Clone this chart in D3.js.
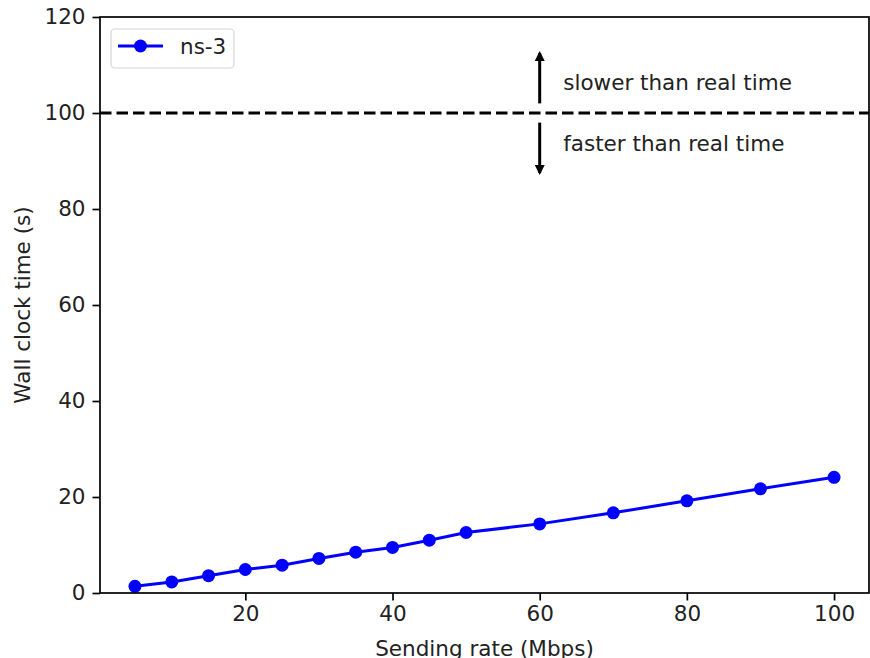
<!DOCTYPE html>
<html>
<head>
<meta charset="utf-8">
<script src="https://cdn.jsdelivr.net/npm/d3@7"></script>
<style>
  body { margin: 0; background: #fff; }
  text { font-family: "DejaVu Sans", sans-serif; fill: #222; }
</style>
</head>
<body>
<div id="chart"></div>
<script>
// Data
const sendingRates = [5, 10, 15, 20, 25, 30, 35, 40, 45, 50, 60, 70, 80, 90, 100];
const wallClock = [1.4, 2.3, 3.6, 4.9, 5.8, 7.2, 8.5, 9.5, 11.0, 12.6, 14.4, 16.7, 19.2, 21.7, 24.1];
const xTicks = [20, 40, 60, 80, 100];
const yTicks = [0, 20, 40, 60, 80, 100, 120];
const realTime = 100;
const seriesName = "ns-3";

const W = 870, H = 658;
const margin = { top: 17, right: 1, bottom: 65, left: 100 };
const fs = 21.5;

const svg = d3.select("#chart").append("svg")
  .attr("width", W).attr("height", H);

const x = d3.scaleLinear().domain([0.25, 104.75]).range([margin.left, W - margin.right]);
const y = d3.scaleLinear().domain([0, 120]).range([H - margin.bottom, margin.top]);

// dashed real-time line
svg.append("line")
  .attr("x1", x.range()[0]).attr("x2", x.range()[1])
  .attr("y1", y(realTime)).attr("y2", y(realTime))
  .attr("stroke", "#000").attr("stroke-width", 3)
  .attr("stroke-dasharray", "11.5,5");

// arrows
const defs = svg.append("defs");
defs.append("marker")
  .attr("id", "head")
  .attr("viewBox", "0 0 10 10")
  .attr("refX", 8).attr("refY", 5)
  .attr("markerWidth", 10).attr("markerHeight", 10)
  .attr("markerUnits", "userSpaceOnUse")
  .attr("orient", "auto")
  .append("path").attr("d", "M0,0 L10,5 L0,10 z").attr("fill", "#000");

const arrows = [[102, 112.5], [98, 87.5]];
arrows.forEach(a => {
  svg.append("line")
    .attr("x1", x(60)).attr("x2", x(60))
    .attr("y1", y(a[0])).attr("y2", y(a[1]))
    .attr("stroke", "#000").attr("stroke-width", 3)
    .attr("marker-end", "url(#head)");
});

svg.append("text")
  .attr("x", x(63.2)).attr("y", y(106.5))
  .attr("dy", "0.36em")
  .style("font-size", fs + "px")
  .text("slower than real time");
svg.append("text")
  .attr("x", x(63.2)).attr("y", y(93.75))
  .attr("dy", "0.36em")
  .style("font-size", fs + "px")
  .text("faster than real time");

// series
const line = d3.line().x((d, i) => x(sendingRates[i])).y(d => y(d));
svg.append("path")
  .datum(wallClock)
  .attr("d", line)
  .attr("fill", "none")
  .attr("stroke", "#0000ff")
  .attr("stroke-width", 3);

svg.selectAll(".dot")
  .data(wallClock)
  .enter()
  .append("circle")
  .attr("class", "dot")
  .attr("cx", (d, i) => x(sendingRates[i]))
  .attr("cy", d => y(d))
  .attr("r", 6.5)
  .attr("fill", "#0000ff");

// spines
const [x0, x1] = x.range();
const [y0, y1] = y.range();
svg.append("rect")
  .attr("x", x0).attr("y", y1)
  .attr("width", x1 - x0).attr("height", y0 - y1)
  .attr("fill", "none").attr("stroke", "#000").attr("stroke-width", 1.7);

// axes
const xAxis = svg.append("g")
  .attr("transform", `translate(0,${y0})`)
  .call(d3.axisBottom(x).tickValues(xTicks).tickSize(7.5).tickPadding(5));
const yAxis = svg.append("g")
  .attr("transform", `translate(${x0},0)`)
  .call(d3.axisLeft(y).tickValues(yTicks).tickSize(7.5).tickPadding(7));

[xAxis, yAxis].forEach(g => {
  g.select(".domain").remove();
  g.selectAll(".tick line").attr("stroke", "#000").attr("stroke-width", 1.7);
  g.selectAll(".tick text")
    .style("font-size", fs + "px")
    .style("font-family", "DejaVu Sans, sans-serif")
    .attr("fill", "#222");
});

// axis labels
svg.append("text")
  .attr("x", (x0 + x1) / 2).attr("y", 656)
  .attr("text-anchor", "middle")
  .style("font-size", fs + "px")
  .text("Sending rate (Mbps)");

svg.append("text")
  .attr("transform", `translate(30,${(y0 + y1) / 2}) rotate(-90)`)
  .attr("text-anchor", "middle")
  .style("font-size", fs + "px")
  .text("Wall clock time (s)");

// legend
const lg = svg.append("g");
lg.append("rect")
  .attr("x", 111).attr("y", 29)
  .attr("width", 123).attr("height", 39)
  .attr("rx", 4)
  .attr("fill", "#fff").attr("fill-opacity", 0.8)
  .attr("stroke", "#d6d6d6").attr("stroke-width", 1.2);
lg.append("line")
  .attr("x1", 118).attr("x2", 163)
  .attr("y1", 46).attr("y2", 46)
  .attr("stroke", "#0000ff").attr("stroke-width", 3);
lg.append("circle")
  .attr("cx", 140.5).attr("cy", 46).attr("r", 6.5)
  .attr("fill", "#0000ff");
lg.append("text")
  .attr("x", 180).attr("y", 46)
  .attr("dy", "0.36em")
  .style("font-size", fs + "px")
  .text(seriesName);
</script>
</body>
</html>
